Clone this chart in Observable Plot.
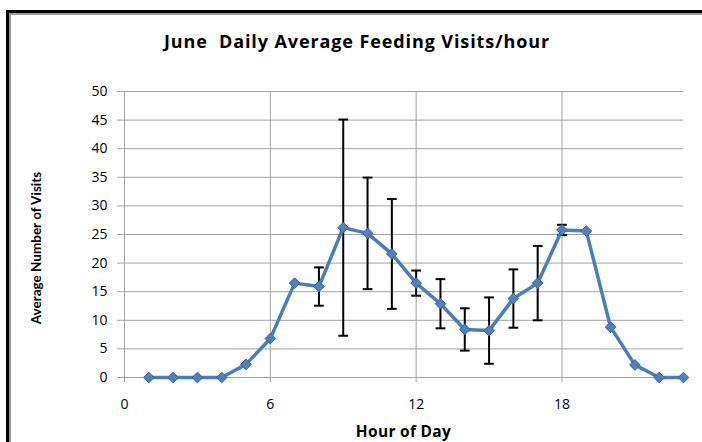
<!DOCTYPE html>
<html>
<head>
<meta charset="utf-8">
<script src="https://cdn.jsdelivr.net/npm/d3@7"></script>
<script src="https://cdn.jsdelivr.net/npm/@observablehq/plot@0.6"></script>
<style>
  html, body { margin: 0; padding: 0; background: #fff; overflow: hidden; width: 702px; height: 442px; }
  #wrap { position: relative; width: 702px; height: 442px; overflow: hidden; }
  #border { position: absolute; left: 6px; top: 10px; width: 900px; height: 600px;
            border-left: 3px solid #000; border-top: 3px solid #000; box-shadow: inset 2px 2px 0 #9a9a9a; }
  #chart { position: absolute; left: 0; top: 0; }
  .title { position: absolute; left: 0; width: 714px; top: 29px; text-align: center; letter-spacing: 0.9px;
           font-family: "Open Sans", Lato, sans-serif; font-weight: bold; font-size: 18px; color: #000; }
  .xlabel { position: absolute; left: 124px; width: 559px; top: 420px; text-align: center; letter-spacing: 0.3px;
            font-family: "Open Sans", Lato, sans-serif; font-weight: bold; font-size: 15.5px; color: #000; }
  .ylabel { position: absolute; left: 36px; top: 248px; transform: translate(-50%, -50%) rotate(-90deg);
            white-space: nowrap; font-family: Lato, "Open Sans", sans-serif; font-weight: bold; font-size: 13.5px; color: #000; }
</style>
</head>
<body>
<div id="wrap">
  <div id="border"></div>
  <div id="chart"></div>
  <div class="title">June&nbsp; Daily Average Feeding Visits/hour</div>
  <div class="ylabel">Average Number of Visits</div>
  <div class="xlabel">Hour of Day</div>
</div>
<script>
const hours = [1,2,3,4,5,6,7,8,9,10,11,12,13,14,15,16,17,18,19,20,21,22,23];
const visits = [0,0,0,0,2.3,6.8,16.5,15.9,26.2,25.2,21.6,16.5,12.9,8.4,8.2,13.8,16.5,25.8,25.6,8.8,2.2,0,0];
const errHours = [8,9,10,11,12,13,14,15,16,17,18];
const errValues = [3.35,18.9,9.75,9.6,2.2,4.3,3.7,5.8,5.1,6.5,0.9];
const xTicks = [0,6,12,18];
const yTicks = [0,5,10,15,20,25,30,35,40,45,50];

const data = hours.map((h, i) => ({hour: h, visits: visits[i]}));
const errs = errHours.map((h, i) => {
  const v = visits[hours.indexOf(h)];
  return {hour: h, lo: v - errValues[i], hi: v + errValues[i]};
});
const capHalf = 0.2;
const caps = errs.flatMap(d => [
  {x1: d.hour - capHalf, x2: d.hour + capHalf, y: d.lo},
  {x1: d.hour - capHalf, x2: d.hour + capHalf, y: d.hi}
]);

const grid = "#a3a3a3";
const chart = Plot.plot({
  width: 702, height: 442,
  marginLeft: 124, marginRight: 19, marginTop: 91, marginBottom: 65,
  style: {fontFamily: "'Open Sans', Lato, sans-serif", fontSize: "14px", color: "#000", background: "transparent"},
  x: {domain: [0, 23], label: null},
  y: {domain: [0, 50], label: null},
  marks: [
    Plot.gridX(xTicks.slice(1), {stroke: grid, strokeOpacity: 1}),
    Plot.gridY(yTicks.slice(1), {stroke: grid, strokeOpacity: 1}),
    Plot.axisX(xTicks, {tickSize: 5, tickPadding: 17, stroke: grid, fontSize: 14}),
    Plot.axisY(yTicks, {tickSize: 7, tickPadding: 10, stroke: grid, fontSize: 14}),
    Plot.ruleX([0], {stroke: grid}),
    Plot.ruleY([0], {stroke: grid}),
    Plot.ruleX(errs, {x: "hour", y1: "lo", y2: "hi", stroke: "#000", strokeWidth: 2}),
    Plot.link(caps, {x1: "x1", x2: "x2", y1: "y", y2: "y", stroke: "#000", strokeWidth: 2}),
    Plot.line(data, {x: "hour", y: "visits", stroke: "#4a7ebb", strokeWidth: 3.5}),
    Plot.dot(data, {x: "hour", y: "visits", symbol: "diamond2", r: 4.8, fill: "#4f81bd", stroke: "#3a5fa8", strokeWidth: 1})
  ]
});
document.getElementById("chart").appendChild(chart);
</script>
</body>
</html>
